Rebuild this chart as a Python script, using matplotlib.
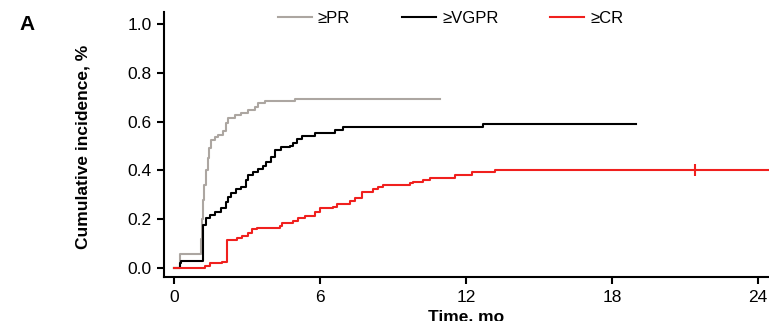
import matplotlib
matplotlib.use("Agg")
import matplotlib.pyplot as plt

plt.rcParams['font.family'] = ['Liberation Sans', 'DejaVu Sans']

# >=PR
pr_t = [0, 0.25, 1.12, 1.15, 1.2, 1.25, 1.3, 1.38, 1.45, 1.53, 1.7, 1.81, 2.0, 2.15,
        2.22, 2.49, 2.77, 3.04, 3.32, 3.45, 3.73, 4.97, 10.95]
pr_v = [0, 0.057, 0.12, 0.2, 0.28, 0.34, 0.40, 0.45, 0.49, 0.525, 0.535, 0.545, 0.56,
        0.593, 0.613, 0.627, 0.634, 0.648, 0.661, 0.675, 0.686, 0.692, 0.692]

# >=VGPR
vgpr_t = [0, 0.23, 0.3, 1.19, 1.33, 1.47, 1.67, 1.95, 2.15, 2.22, 2.36, 2.56, 2.77, 2.97,
          3.04, 3.25, 3.45, 3.66, 3.79, 4.0, 4.14, 4.41, 4.77, 4.9, 5.04, 5.25, 5.8, 6.62,
          6.96, 12.71, 19.0]
vgpr_v = [0, 0.019, 0.03, 0.176, 0.204, 0.217, 0.231, 0.245, 0.272, 0.292, 0.306, 0.322,
          0.333, 0.361, 0.381, 0.395, 0.404, 0.418, 0.436, 0.456, 0.484, 0.494, 0.50, 0.511,
          0.53, 0.541, 0.555, 0.566, 0.578, 0.589, 0.589]

# >=CR
cr_t = [0, 1.26, 1.48, 1.96, 2.16, 2.58, 2.78, 3.06, 3.19, 3.4, 4.36, 4.43, 4.9, 5.11,
        5.38, 5.8, 6.0, 6.55, 6.69, 7.23, 7.44, 7.71, 8.19, 8.4, 8.6, 9.7, 9.84, 10.25,
        10.52, 11.55, 12.24, 13.19, 24.5]
cr_v = [0, 0.008, 0.019, 0.026, 0.115, 0.122, 0.131, 0.142, 0.159, 0.165, 0.172, 0.183,
        0.194, 0.204, 0.214, 0.231, 0.245, 0.251, 0.261, 0.276, 0.288, 0.313, 0.322, 0.333,
        0.34, 0.347, 0.354, 0.361, 0.367, 0.381, 0.395, 0.402, 0.402]
cr_censor_t = [21.4]
cr_censor_v = [0.402]

x_ticks = [0, 6, 12, 18, 24]
y_ticks = [0.0, 0.2, 0.4, 0.6, 0.8, 1.0]

fig = plt.figure(figsize=(7.69, 3.21), dpi=100)
ax = fig.add_axes([164 / 769, 44 / 321, 605 / 769, 265 / 321])

lw = 1.5
ax.step(pr_t, pr_v, where='post', color='#aca6a1', lw=lw, label='≥PR')
ax.step(vgpr_t, vgpr_v, where='post', color='black', lw=lw, label='≥VGPR')
ax.step(cr_t, cr_v, where='post', color='#f0201e', lw=lw, label='≥CR')
ax.plot(cr_censor_t, cr_censor_v, marker='|', color='#f0201e', ms=9, mew=1.5, ls='none')

ax.set_xlim(-0.41, 24.45)
ax.set_ylim(-0.037, 1.049)
ax.set_xticks(x_ticks)
ax.set_yticks(y_ticks)
ax.set_yticklabels([f'{v:.1f}' for v in y_ticks])

for s in ['top', 'right']:
    ax.spines[s].set_visible(False)
for s in ['left', 'bottom']:
    ax.spines[s].set_linewidth(1.5)
ax.tick_params(direction='out', length=5, width=1.5, labelsize=12.5, pad=4)

ax.set_ylabel('Cumulative incidence, %', fontsize=12.5, fontweight='bold')
ax.yaxis.set_label_coords(-0.122, 0.49)
ax.set_xlabel('Time, mo', fontsize=12.5, fontweight='bold')
ax.xaxis.set_label_coords(0.5, -0.1245)

ax.legend(loc='center', bbox_to_anchor=(0.4736, 0.977), ncol=3, frameon=False,
          fontsize=12, handlelength=2.05, columnspacing=3.1, handletextpad=0.36,
          borderaxespad=0, borderpad=0)

fig.text(27.5 / 769, 1 - 24.5 / 321, 'A', fontsize=15, fontweight='bold', ha='center', va='center')

fig.savefig('out.png', dpi=100)
